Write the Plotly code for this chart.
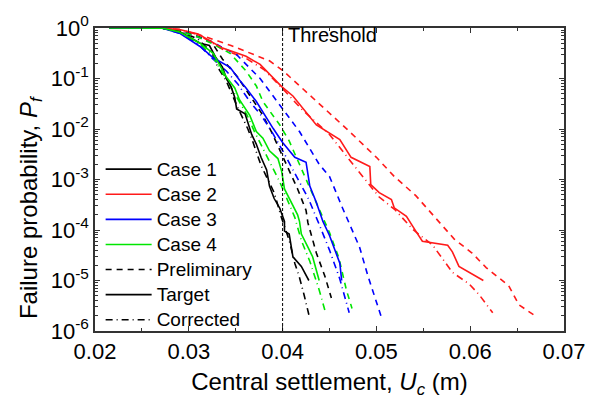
import plotly.graph_objects as go

# ---------------- data ----------------
# Case 1 (black)
c1_target_x = [0.0215, 0.0272, 0.029, 0.0312, 0.0322, 0.0329, 0.0336, 0.0340, 0.0345, 0.0349, 0.0351, 0.0360, 0.0367,
               0.0372, 0.0377, 0.0383, 0.0386, 0.0391, 0.0397, 0.0402, 0.0402, 0.0407, 0.0411, 0.0420, 0.0428]
c1_target_y = [1.0, 0.99, 0.85, 0.50, 0.45, 0.257, 0.166, 0.10, 0.069, 0.042, 0.025, 0.020, 7.8e-3,
               5.0e-3, 2.75e-3, 1.55e-3, 7.4e-4, 4.2e-4, 2.7e-4, 1.48e-4, 9.5e-5, 8.3e-5, 2.95e-5, 1.9e-5, 1.0e-5]
c1_corr_x = [0.0215, 0.0272, 0.029, 0.031, 0.0325, 0.0331, 0.0340, 0.0352, 0.0363, 0.0368, 0.0377, 0.0391, 0.0399,
             0.0407, 0.0413, 0.0418, 0.0423, 0.0428]
c1_corr_y = [1.0, 0.99, 0.87, 0.60, 0.316, 0.166, 0.089, 0.027, 0.010, 5.8e-3, 1.9e-3, 5.5e-4, 1.7e-4,
             6.3e-5, 2.2e-5, 1.15e-5, 5.1e-6, 2.1e-6]
c1_prel_x = [0.0215, 0.0272, 0.029, 0.0305, 0.0324, 0.0336, 0.0352, 0.0367, 0.0378, 0.0388, 0.0407, 0.0416, 0.0425,
             0.0427, 0.0436, 0.0445, 0.0452]
c1_prel_y = [1.0, 0.99, 0.89, 0.74, 0.54, 0.24, 0.107, 0.042, 0.020, 8.9e-3, 1.45e-3, 6.5e-4, 2.45e-4,
             1.38e-4, 3.5e-5, 1.23e-5, 4.5e-6]

# Case 2 (red)
c2_target_x = [0.0215, 0.0272, 0.029, 0.031, 0.0336, 0.0361, 0.0376, 0.0390, 0.0399, 0.0411, 0.0436, 0.0461, 0.0473,
               0.0493, 0.0494, 0.0503, 0.0516, 0.0519, 0.0532, 0.0542, 0.0549, 0.0576, 0.0581, 0.0588, 0.0614]
c2_target_y = [1.0, 0.99, 0.93, 0.76, 0.40, 0.275, 0.19, 0.10, 0.069, 0.045, 0.012, 6.2e-3, 2.75e-3,
               1.8e-3, 7.9e-4, 5.5e-4, 4.0e-4, 2.75e-4, 1.86e-4, 9.5e-5, 6.0e-5, 5.0e-5, 3.7e-5, 1.9e-5, 1.0e-5]
c2_corr_x = [0.0215, 0.0272, 0.029, 0.031, 0.0336, 0.0361, 0.0380, 0.0400, 0.0420, 0.0450, 0.0475, 0.0503, 0.0520,
             0.0539, 0.0560, 0.0581, 0.0599, 0.0610, 0.0624]
c2_corr_y = [1.0, 0.99, 0.93, 0.74, 0.38, 0.25, 0.151, 0.063, 0.025, 7.8e-3, 2.0e-3, 4.5e-4, 2.5e-4,
             1.02e-4, 5.0e-5, 1.45e-5, 8.5e-6, 5.1e-6, 2.3e-6]
c2_prel_x = [0.0215, 0.0272, 0.029, 0.0319, 0.0345, 0.0365, 0.0386, 0.0400, 0.0420, 0.0445, 0.0468, 0.0500, 0.0519,
             0.0542, 0.0563, 0.0583, 0.0602, 0.0617, 0.0641, 0.0652, 0.0670]
c2_prel_y = [1.0, 0.99, 0.93, 0.66, 0.45, 0.316, 0.224, 0.145, 0.066, 0.025, 0.0102, 2.75e-3, 1.15e-3,
             4.8e-4, 1.7e-4, 6.6e-5, 3.5e-5, 1.8e-5, 7.9e-6, 3.3e-6, 1.95e-6]

# Case 3 (blue)
c3_target_x = [0.0215, 0.0272, 0.029, 0.0312, 0.0326, 0.0344, 0.0354, 0.0361, 0.0372, 0.0377, 0.0390, 0.0400, 0.0413,
               0.0425, 0.0429, 0.0436, 0.0443, 0.0450, 0.0457, 0.0461, 0.0463]
c3_target_y = [1.0, 0.99, 0.79, 0.43, 0.257, 0.166, 0.093, 0.065, 0.035, 0.0245, 0.0102, 5.4e-3, 2.75e-3,
               2.2e-3, 7.4e-4, 3.5e-4, 1.48e-4, 7.8e-5, 3.5e-5, 2.2e-5, 1.0e-5]
c3_corr_x = [0.0215, 0.0272, 0.029, 0.031, 0.0325, 0.0340, 0.0352, 0.0365, 0.0378, 0.0390, 0.0402, 0.0415, 0.0428,
             0.0439, 0.0450, 0.0461, 0.0471]
c3_corr_y = [1.0, 0.99, 0.79, 0.48, 0.25, 0.141, 0.079, 0.035, 0.0178, 7.9e-3, 3.2e-3, 1.12e-3, 4.0e-4,
             1.29e-4, 4.0e-5, 1.07e-5, 2.3e-6]
c3_prel_x = [0.0215, 0.0272, 0.029, 0.031, 0.0330, 0.0351, 0.0376, 0.0395, 0.0418, 0.0439, 0.0450, 0.0464, 0.0482,
             0.0491, 0.0505]
c3_prel_y = [1.0, 0.99, 0.87, 0.66, 0.47, 0.295, 0.10, 0.033, 8.9e-3, 2.0e-3, 1.15e-3, 2.7e-4, 4.6e-5,
             1.23e-5, 1.95e-6]

# Case 4 (green)
c4_target_x = [0.0215, 0.0272, 0.029, 0.0312, 0.0326, 0.0333, 0.0340, 0.0349, 0.0354, 0.0365, 0.0372, 0.0379, 0.0386,
               0.0395, 0.0399, 0.0402, 0.0409, 0.0416, 0.0418, 0.0420, 0.0427, 0.0432, 0.0439]
c4_target_y = [1.0, 0.99, 0.83, 0.50, 0.316, 0.178, 0.107, 0.065, 0.038, 0.0186, 8.9e-3, 6.6e-3, 3.7e-3,
               2.6e-3, 1.45e-3, 6.5e-4, 3.5e-4, 2.0e-4, 1.48e-4, 8.3e-5, 4.6e-5, 2.95e-5, 1.0e-5]
c4_corr_x = [0.0215, 0.0272, 0.029, 0.031, 0.0325, 0.0335, 0.0343, 0.0352, 0.0362, 0.0370, 0.0378, 0.0388, 0.0397,
             0.0405, 0.0413, 0.0420, 0.0429, 0.0439, 0.0445]
c4_corr_y = [1.0, 0.99, 0.83, 0.52, 0.28, 0.141, 0.079, 0.040, 0.019, 8.9e-3, 4.5e-3, 2.0e-3, 8.9e-4,
             4.0e-4, 1.78e-4, 6.2e-5, 2.4e-5, 6.5e-6, 2.6e-6]
c4_prel_x = [0.0215, 0.0272, 0.029, 0.031, 0.0327, 0.0344, 0.0361, 0.0372, 0.0379, 0.0397, 0.0407, 0.0418, 0.0429,
             0.0438, 0.0450, 0.0460, 0.0468, 0.0474]
c4_prel_y = [1.0, 0.99, 0.87, 0.66, 0.47, 0.316, 0.141, 0.071, 0.035, 0.012, 5.8e-3, 2.0e-3, 6.5e-4,
             2.7e-4, 8.9e-5, 2.8e-5, 6.5e-6, 2.8e-6]

threshold_x = 0.04

x_ticks = [0.02, 0.03, 0.04, 0.05, 0.06, 0.07]
x_minor = [0.025, 0.035, 0.045, 0.055, 0.065]
y_ticks = [1e-6, 1e-5, 1e-4, 1e-3, 1e-2, 1e-1, 1e0]
y_ticktext = ["10<sup>-6</sup>", "10<sup>-5</sup>", "10<sup>-4</sup>", "10<sup>-3</sup>",
              "10<sup>-2</sup>", "10<sup>-1</sup>", "10<sup>0</sup>"]
y_minor = [m * 10.0 ** e for e in range(-6, 0) for m in range(2, 10)]

case_names = ["Case 1", "Case 2", "Case 3", "Case 4"]
case_colors = ["#000000", "#ff1a1a", "#0000ff", "#00e600"]
style_names = ["Preliminary", "Target", "Corrected"]

# ---------------- figure ----------------
FONT = "Arial, 'Liberation Sans', sans-serif"
PRE_DASH = "6px,5px"
COR_DASH = "7px,4px,1px,4px"

curves = [
    (c1_prel_x, c1_prel_y, c1_target_x, c1_target_y, c1_corr_x, c1_corr_y),
    (c2_prel_x, c2_prel_y, c2_target_x, c2_target_y, c2_corr_x, c2_corr_y),
    (c3_prel_x, c3_prel_y, c3_target_x, c3_target_y, c3_corr_x, c3_corr_y),
    (c4_prel_x, c4_prel_y, c4_target_x, c4_target_y, c4_corr_x, c4_corr_y),
]

fig = go.Figure()

for (px, py, tx, ty, cx, cy), col in zip(curves, case_colors):
    fig.add_trace(go.Scatter(x=px, y=py, mode="lines", showlegend=False,
                             line=dict(color=col, width=1.6, dash=PRE_DASH)))
    fig.add_trace(go.Scatter(x=cx, y=cy, mode="lines", showlegend=False,
                             line=dict(color=col, width=1.6, dash=COR_DASH)))
for (px, py, tx, ty, cx, cy), col in zip(curves, case_colors):
    fig.add_trace(go.Scatter(x=tx, y=ty, mode="lines", showlegend=False,
                             line=dict(color=col, width=1.6)))


def big(s):
    return f"<span style='font-size:19px'>{s}</span>"


# legend entries
for name, col in zip(case_names, case_colors):
    fig.add_trace(go.Scatter(x=[None], y=[None], mode="lines", name=big(name),
                             line=dict(color=col, width=1.6)))
for name, dash in zip(style_names, [PRE_DASH, "solid", COR_DASH]):
    fig.add_trace(go.Scatter(x=[None], y=[None], mode="lines", name=big(name),
                             line=dict(color="#000000", width=1.6, dash=dash)))

fig.add_vline(x=threshold_x, line=dict(color="#000000", width=1, dash="3px,2px"))
fig.add_annotation(x=threshold_x, y=-0.14, xref="x", yref="y", text="Threshold",
                   showarrow=False, xanchor="left", yanchor="middle", xshift=3,
                   font=dict(family=FONT, size=20, color="#000000"))
# y-axis title (placed as in the reference, slightly below the axis centre)
fig.add_annotation(x=-0.138, y=0.41, xref="paper", yref="paper", textangle=-90,
                   text="Failure probability, <i>P<sub>f</sub></i>", showarrow=False,
                   xanchor="center", yanchor="middle",
                   font=dict(family=FONT, size=24, color="#000000"))

axis_common = dict(showline=True, linecolor="#333333", linewidth=1.5, mirror="ticks",
                   ticks="inside", ticklen=5, tickcolor="#333333", tickwidth=1,
                   showgrid=False, zeroline=False,
                   tickfont=dict(family=FONT, size=22, color="#000000"))

fig.update_xaxes(range=[0.02, 0.07], tickvals=x_ticks, ticktext=[f"{v:.2f}" for v in x_ticks],
                 minor=dict(tickvals=x_minor, ticks="inside", ticklen=3, tickcolor="#333333"),
                 title=dict(text="Central settlement, <i>U<sub>c</sub></i> (m)", standoff=10,
                            font=dict(family=FONT, size=24, color="#000000")),
                 **axis_common)
fig.update_yaxes(type="log", range=[-6, 0], tickvals=y_ticks, ticktext=y_ticktext,
                 minor=dict(tickvals=y_minor, ticks="inside", ticklen=3, tickcolor="#333333"),
                 **axis_common)

fig.update_layout(
    width=597, height=403,
    margin=dict(l=95, r=32, t=19, b=69),
    paper_bgcolor="white", plot_bgcolor="white",
    font=dict(family=FONT, color="#000000"),
    legend=dict(x=0.012, y=0.592, xanchor="left", yanchor="top",
                bgcolor="rgba(0,0,0,0)", font=dict(family=FONT, size=17, color="#000000"),
                tracegroupgap=0, itemwidth=46),
)

fig.write_html("out.html")
